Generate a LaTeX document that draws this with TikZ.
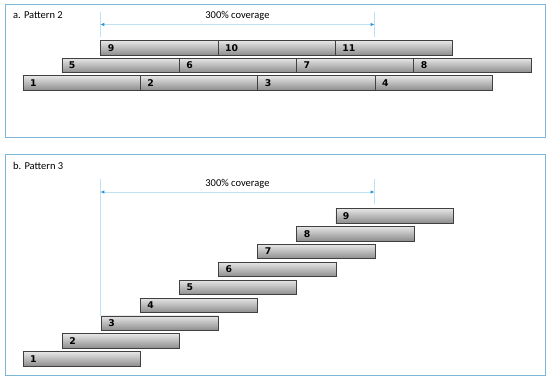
\documentclass[tikz,border=0pt]{standalone}
\usepackage{fontspec}
\setmainfont{Carlito}
\newfontfamily\numfont{DejaVu Sans}
\usetikzlibrary{arrows.meta,calc}
\definecolor{framebl}{HTML}{7DB7D8}
\definecolor{covline}{HTML}{BFE1F4}
\definecolor{covtip}{HTML}{2E96D2}

\begin{document}
\begin{tikzpicture}[x=1pt, y=-1pt,
  seg/.style={draw=black!75, line width=0.9pt, top color=black!10, bottom color=black!45,
              anchor=west, minimum height=14.5pt, inner xsep=7pt, inner ysep=0pt,
              text width=103.3pt, align=left, font=\numfont\bfseries\fontsize{9.3}{10}\selectfont},
  frm/.style={draw=framebl, line width=0.9pt},
  cov/.style={draw=covline, line width=0.9pt},
  covar/.style={cov, {Latex[length=4pt,width=3.5pt,color=covtip]}-{Latex[length=4pt,width=3.5pt,color=covtip]}},
  lab/.style={font=\fontsize{10.5}{12}\selectfont, inner sep=1pt},
]
\useasboundingbox (0,0) rectangle (550,380);

% a. Pattern 2
\draw[frm] (5,4.5) rectangle (545,137);
\node[lab, anchor=west] (ta) at (12,15) {a. Pattern 2};
\coordinate (a1t) at (100.3,12);  \coordinate (a1b) at (100.3,37);
\coordinate (a2t) at (374.6,12);  \coordinate (a2b) at (374.6,37);
\draw[cov] (a1t) -- (a1b);
\draw[cov] (a2t) -- (a2b);
\draw[covar] ($(a1t)!0.5!(a1b)$) coordinate (aal) -- ($(a2t)!0.5!(a2b)$) coordinate (aar);
\node[lab, anchor=south] (ca) at ($(aal)!0.5!(aar)+(0,-2.5)$) {300\% coverage};
\node[seg] (a9)  at (100.3,48) {9};
\node[seg] (a10) at (217.6,48) {10};
\node[seg] (a11) at (334.9,48) {11};
\node[seg] (a5)  at (61.5,65.5) {5};
\node[seg] (a6)  at (178.8,65.5) {6};
\node[seg] (a7)  at (296.1,65.5) {7};
\node[seg] (a8)  at (413.4,65.5) {8};
\node[seg] (a1)  at (22.7,83) {1};
\node[seg] (a2)  at (140,83) {2};
\node[seg] (a3)  at (257.3,83) {3};
\node[seg] (a4)  at (374.6,83) {4};

% b. Pattern 3
\draw[frm] (5,154) rectangle (545,375);
\node[lab, anchor=west] (tb) at (12,166) {b. Pattern 3};
\node[seg] (b1) at (22.7,359) {1};
\node[seg] (b2) at (61.8,341.1) {2};
\node[seg] (b3) at (100.9,323.2) {3};
\node[seg] (b4) at (140,305.3) {4};
\node[seg] (b5) at (179.1,287.4) {5};
\node[seg] (b6) at (218.2,269.5) {6};
\node[seg] (b7) at (257.3,251.6) {7};
\node[seg] (b8) at (296.4,233.7) {8};
\node[seg] (b9) at (335.5,215.8) {9};
\coordinate (b1t) at (100.3,179);
\coordinate (b2t) at (374.6,179);  \coordinate (b2b) at (374.6,204);
\draw[cov] (b1t) -- (b1t |- b3.north);
\draw[cov] (b2t) -- (b2b);
\draw[covar] (b1t |- 0,192) coordinate (bal) -- (b2t |- 0,192) coordinate (bar);
\node[lab, anchor=south] (cb) at ($(bal)!0.5!(bar)+(0,-2.5)$) {300\% coverage};
\end{tikzpicture}
\end{document}
